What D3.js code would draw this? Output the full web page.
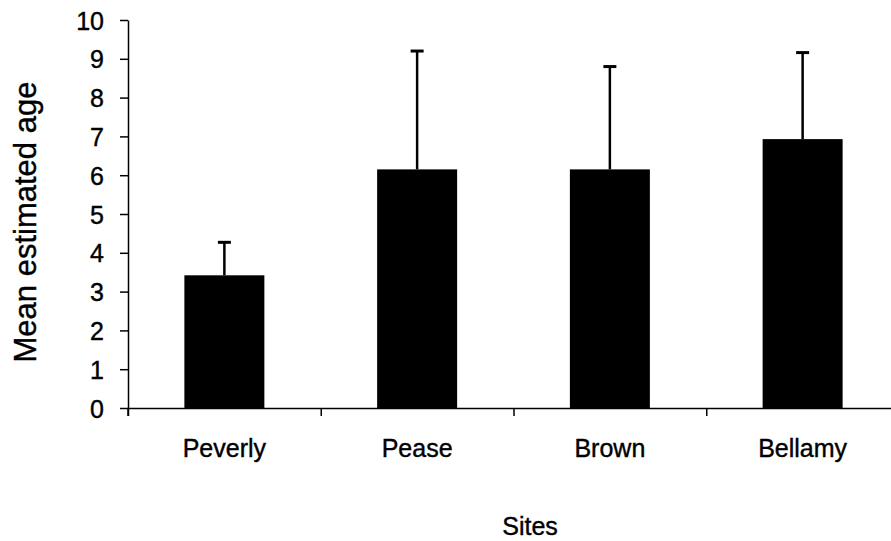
<!DOCTYPE html>
<html>
<head>
<meta charset="utf-8">
<script src="https://cdn.jsdelivr.net/npm/d3@7"></script>
<style>
  body { margin: 0; background: #fff; }
  text { font-family: "Liberation Sans", Arial, sans-serif; fill: #000; stroke: #000; stroke-width: 0.4px; }
</style>
</head>
<body>
<script>
// Data
const sites = ["Peverly", "Pease", "Brown", "Bellamy"];
const meanAge = [3.42, 6.15, 6.15, 6.93];
const errAge = [0.85, 3.05, 2.65, 2.23];
const yTicks = [0, 1, 2, 3, 4, 5, 6, 7, 8, 9, 10];

// Width and Height
const w = 891;
const h = 541;

// plot area
const plotLeft = 128, plotRight = 899, plotTop = 20, plotBottom = 408;

const svg = d3.select("body")
              .append("svg")
              .attr("width", w)
              .attr("height", h);

// Scales
const x = d3.scaleBand()
            .domain(sites)
            .range([plotLeft, plotRight])
            .paddingInner(0.585)
            .paddingOuter(0.2925);

const y = d3.scaleLinear()
            .domain([0, 10])
            .range([plotBottom, plotTop]);

// boundary ticks on x axis
const xEdge = d3.scaleLinear()
                .domain([0, sites.length])
                .range([plotLeft, plotRight]);

// Bars
svg.selectAll("rect.bar")
   .data(sites)
   .enter()
   .append("rect")
   .attr("class", "bar")
   .attr("x", d => x(d))
   .attr("width", x.bandwidth())
   .attr("y", (d, i) => y(meanAge[i]))
   .attr("height", (d, i) => plotBottom - y(meanAge[i]))
   .style("fill", "#000");

// Error bars (upper only)
const err = svg.selectAll("g.err")
   .data(sites)
   .enter()
   .append("g")
   .attr("class", "err")
   .attr("transform", d => "translate(" + (x(d) + x.bandwidth() / 2) + ",0)");

err.append("line")
   .attr("x1", 0).attr("x2", 0)
   .attr("y1", (d, i) => y(meanAge[i]))
   .attr("y2", (d, i) => y(meanAge[i] + errAge[i]))
   .style("stroke", "#000")
   .style("stroke-width", 2.5);

err.append("line")
   .attr("x1", -6.5).attr("x2", 6.5)
   .attr("y1", (d, i) => y(meanAge[i] + errAge[i]))
   .attr("y2", (d, i) => y(meanAge[i] + errAge[i]))
   .style("stroke", "#000")
   .style("stroke-width", 3);

// Y axis
const yAxis = svg.append("g")
   .attr("transform", "translate(" + plotLeft + ",0)")
   .call(d3.axisLeft(y).tickValues(yTicks).tickSize(8).tickPadding(16).tickSizeOuter(0));

yAxis.selectAll("text")
   .style("font-size", "25px")
   .attr("dy", "0.36em");
yAxis.selectAll("line, path")
   .style("stroke", "#000")
   .style("stroke-width", 1.5);

// small extension of y axis below zero
svg.append("line")
   .attr("x1", plotLeft).attr("x2", plotLeft)
   .attr("y1", plotBottom).attr("y2", plotBottom + 8)
   .style("stroke", "#000")
   .style("stroke-width", 1.5);

// X axis: boundary ticks
const xAxis = svg.append("g")
   .attr("transform", "translate(0," + plotBottom + ")")
   .call(d3.axisBottom(xEdge).tickValues(d3.range(sites.length + 1)).tickFormat("").tickSize(8).tickSizeOuter(0));

xAxis.selectAll("line, path")
   .style("stroke", "#000")
   .style("stroke-width", 1.5);

// X axis: category labels
const xLabels = svg.append("g")
   .attr("transform", "translate(0," + plotBottom + ")")
   .call(d3.axisBottom(x).tickSize(0).tickPadding(31));

xLabels.select(".domain").remove();
xLabels.selectAll("text").style("font-size", "25px");

// Axis titles
svg.append("text")
   .attr("transform", "translate(36," + 222 + ") rotate(-90)")
   .attr("text-anchor", "middle")
   .style("font-size", "31px")
   .text("Mean estimated age");

svg.append("text")
   .attr("x", 530)
   .attr("y", 535)
   .attr("text-anchor", "middle")
   .style("font-size", "25px")
   .text("Sites");
</script>
</body>
</html>
